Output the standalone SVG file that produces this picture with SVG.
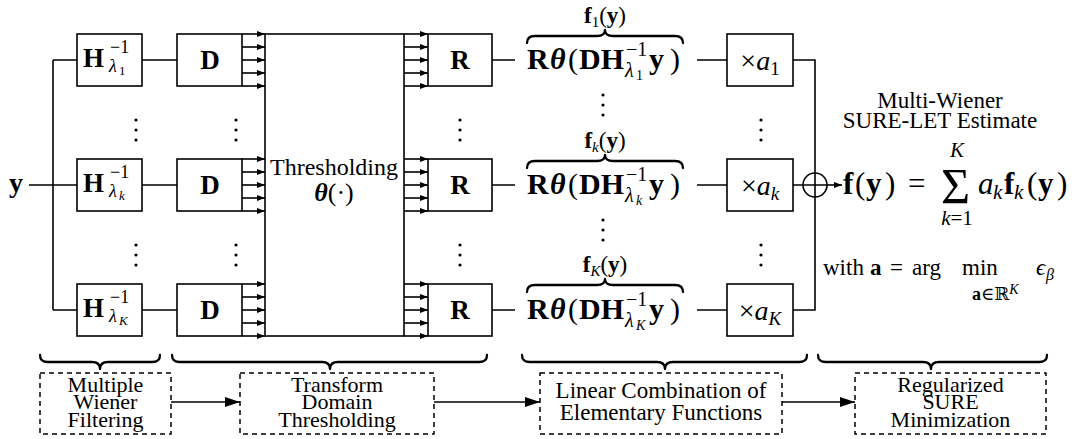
<svg xmlns="http://www.w3.org/2000/svg" width="1074" height="439" viewBox="0 0 1074 439" font-family="'Liberation Serif','DejaVu Serif',serif">
<defs>
<marker id="ah" viewBox="0 0 8 6" refX="8" refY="3" markerWidth="8" markerHeight="6" markerUnits="userSpaceOnUse" orient="auto"><path d="M0,0L8,3L0,6z" fill="#000"/></marker>
<marker id="ahb" viewBox="0 0 15 10" refX="15" refY="5" markerWidth="15" markerHeight="10" markerUnits="userSpaceOnUse" orient="auto"><path d="M0,0L15,5L0,10z" fill="#000"/></marker>
</defs>
<style>
text{font-family:"Liberation Serif","DejaVu Serif",serif;fill:#000}
.b{font-weight:bold}
.i{font-style:italic}
.bi{font-weight:bold;font-style:italic}
.box{fill:#fff;stroke:#000;stroke-width:1.6}
.ln{fill:none;stroke:#000;stroke-width:1.6}
.arr{stroke:#000;stroke-width:1.6;marker-end:url(#ah)}
.arrb{stroke:#000;stroke-width:1.6;marker-end:url(#ahb)}
.dash{fill:#fff;stroke:#000;stroke-width:1.5;stroke-dasharray:5 4}
.brace{fill:none;stroke:#000;stroke-width:2.3;stroke-linecap:round;stroke-linejoin:round}
.lbl{font-size:23px;text-anchor:middle}
.sl{font-size:22px;text-anchor:middle}
.m{text-anchor:middle}
</style>
<rect width="1074" height="439" fill="#fff"/>

<g id="connectors">
<path class="ln" d="M29,185H77 M53,60V310 M53,60H77 M53,310H77"/>
<path class="ln" d="M142,60H177 M142,185H177 M142,310H177"/>
<line class="arr" x1="242" y1="34" x2="265" y2="34"/>
<line class="arr" x1="242" y1="47" x2="265" y2="47"/>
<line class="arr" x1="242" y1="60" x2="265" y2="60"/>
<line class="arr" x1="242" y1="73" x2="265" y2="73"/>
<line class="arr" x1="242" y1="86" x2="265" y2="86"/>
<line class="arr" x1="242" y1="159" x2="265" y2="159"/>
<line class="arr" x1="242" y1="172" x2="265" y2="172"/>
<line class="arr" x1="242" y1="185" x2="265" y2="185"/>
<line class="arr" x1="242" y1="198" x2="265" y2="198"/>
<line class="arr" x1="242" y1="211" x2="265" y2="211"/>
<line class="arr" x1="242" y1="284" x2="265" y2="284"/>
<line class="arr" x1="242" y1="297" x2="265" y2="297"/>
<line class="arr" x1="242" y1="310" x2="265" y2="310"/>
<line class="arr" x1="242" y1="323" x2="265" y2="323"/>
<line class="arr" x1="242" y1="336" x2="265" y2="336"/>
<line class="arr" x1="404" y1="34" x2="428" y2="34"/>
<line class="arr" x1="404" y1="47" x2="428" y2="47"/>
<line class="arr" x1="404" y1="60" x2="428" y2="60"/>
<line class="arr" x1="404" y1="73" x2="428" y2="73"/>
<line class="arr" x1="404" y1="86" x2="428" y2="86"/>
<line class="arr" x1="404" y1="159" x2="428" y2="159"/>
<line class="arr" x1="404" y1="172" x2="428" y2="172"/>
<line class="arr" x1="404" y1="185" x2="428" y2="185"/>
<line class="arr" x1="404" y1="198" x2="428" y2="198"/>
<line class="arr" x1="404" y1="211" x2="428" y2="211"/>
<line class="arr" x1="404" y1="284" x2="428" y2="284"/>
<line class="arr" x1="404" y1="297" x2="428" y2="297"/>
<line class="arr" x1="404" y1="310" x2="428" y2="310"/>
<line class="arr" x1="404" y1="323" x2="428" y2="323"/>
<line class="arr" x1="404" y1="336" x2="428" y2="336"/>
<path class="ln" d="M492,60H515 M492,185H515 M492,310H515"/>
<path class="ln" d="M697,60H727 M697,185H727 M697,310H727"/>
<path class="ln" d="M793,60H815V173 M793,310H815V197 M793,185H803"/>
<line class="arr" x1="827" y1="185" x2="842" y2="185"/>
<line class="arrb" x1="171" y1="402" x2="240" y2="402"/>
<line class="arrb" x1="434" y1="402" x2="540" y2="402"/>
<line class="arrb" x1="782" y1="402" x2="855" y2="402"/>
</g>

<g id="input"><text class="b" x="9" y="192" font-size="28">y</text></g>

<g id="H1"><rect class="box" x="77" y="34" width="65" height="52"/>
<text class="b" x="83" y="67" font-size="27">H</text>
<text x="110" y="53" font-size="18">−1</text>
<text class="i" x="109" y="72" font-size="18">λ</text><text x="119" y="75" font-size="13">1</text></g>
<g id="Hk"><rect class="box" x="77" y="159" width="65" height="52"/>
<text class="b" x="83" y="192" font-size="27">H</text>
<text x="110" y="178" font-size="18">−1</text>
<text class="i" x="109" y="197" font-size="18">λ</text><text class="i" x="119" y="200" font-size="13">k</text></g>
<g id="HK"><rect class="box" x="77" y="284" width="65" height="52"/>
<text class="b" x="83" y="317" font-size="27">H</text>
<text x="110" y="303" font-size="18">−1</text>
<text class="i" x="109" y="322" font-size="18">λ</text><text class="i" x="119" y="325" font-size="13">K</text></g>

<g id="D1"><rect class="box" x="177" y="34" width="65" height="52"/><text class="b m" x="210" y="69" font-size="27">D</text></g>
<g id="Dk"><rect class="box" x="177" y="159" width="65" height="52"/><text class="b m" x="210" y="194" font-size="27">D</text></g>
<g id="DK"><rect class="box" x="177" y="284" width="65" height="52"/><text class="b m" x="210" y="319" font-size="27">D</text></g>

<g id="threshold"><rect class="box" x="265" y="34" width="139" height="302"/>
<text class="m" x="334" y="175" font-size="24">Thresholding</text>
<text class="m" x="334" y="201" font-size="26"><tspan class="bi">θ</tspan>(·)</text></g>

<g id="R1"><rect class="box" x="428" y="34" width="64" height="52"/><text class="b m" x="460" y="69" font-size="27">R</text></g>
<g id="Rk"><rect class="box" x="428" y="159" width="64" height="52"/><text class="b m" x="460" y="194" font-size="27">R</text></g>
<g id="RK"><rect class="box" x="428" y="284" width="64" height="52"/><text class="b m" x="460" y="319" font-size="27">R</text></g>

<g id="f1">
<path class="brace" d="M527,43 Q527,36 535,36 L597,36 Q605,36 605,30 Q605,36 613,36 L675,36 Q683,36 683,43"/>
<text class="m" x="605" y="23" font-size="23"><tspan class="b">f</tspan><tspan font-size="15" dy="4">1</tspan><tspan dy="-4">(</tspan><tspan class="b">y</tspan>)</text>
<text font-size="30" y="69"><tspan class="b" x="527">R</tspan><tspan class="bi" x="550">θ</tspan><tspan x="568">(</tspan><tspan class="b" x="579">DH</tspan><tspan class="b" x="649">y</tspan><tspan x="670">)</tspan></text>
<text x="626" y="56" font-size="20">−1</text>
<text class="i" x="625" y="77" font-size="20">λ</text><text x="636" y="80" font-size="14">1</text>
</g>
<g id="fk">
<path class="brace" d="M527,168 Q527,161 535,161 L597,161 Q605,161 605,155 Q605,161 613,161 L675,161 Q683,161 683,168"/>
<text class="m" x="605" y="148" font-size="23"><tspan class="b">f</tspan><tspan class="i" font-size="15" dy="4">k</tspan><tspan dy="-4">(</tspan><tspan class="b">y</tspan>)</text>
<text font-size="30" y="194"><tspan class="b" x="527">R</tspan><tspan class="bi" x="550">θ</tspan><tspan x="568">(</tspan><tspan class="b" x="579">DH</tspan><tspan class="b" x="649">y</tspan><tspan x="670">)</tspan></text>
<text x="626" y="181" font-size="20">−1</text>
<text class="i" x="625" y="202" font-size="20">λ</text><text class="i" x="636" y="205" font-size="14">k</text>
</g>
<g id="fK">
<path class="brace" d="M527,292 Q527,285 535,285 L597,285 Q605,285 605,279 Q605,285 613,285 L675,285 Q683,285 683,292"/>
<text class="m" x="605" y="272" font-size="23"><tspan class="b">f</tspan><tspan class="i" font-size="15" dy="4">K</tspan><tspan dy="-4">(</tspan><tspan class="b">y</tspan>)</text>
<text font-size="30" y="319"><tspan class="b" x="527">R</tspan><tspan class="bi" x="550">θ</tspan><tspan x="568">(</tspan><tspan class="b" x="579">DH</tspan><tspan class="b" x="649">y</tspan><tspan x="670">)</tspan></text>
<text x="626" y="306" font-size="20">−1</text>
<text class="i" x="625" y="327" font-size="20">λ</text><text class="i" x="636" y="330" font-size="14">K</text>
</g>

<g id="a1"><rect class="box" x="727" y="34" width="66" height="52"/><text class="m" x="760" y="70" font-size="28">×<tspan class="i">a</tspan><tspan font-size="19" dy="5">1</tspan></text></g>
<g id="ak"><rect class="box" x="727" y="159" width="66" height="52"/><text class="m" x="760" y="195" font-size="28">×<tspan class="i">a</tspan><tspan class="i" font-size="19" dy="5">k</tspan></text></g>
<g id="aK"><rect class="box" x="727" y="284" width="66" height="52"/><text class="m" x="760" y="320" font-size="28">×<tspan class="i">a</tspan><tspan class="i" font-size="19" dy="5">K</tspan></text></g>

<g id="sum"><circle cx="815" cy="185" r="12" fill="#fff" stroke="#000" stroke-width="1.6"/><path class="ln" d="M803,185H827 M815,173V197"/></g>

<g id="dots" fill="#000">
<circle cx="136" cy="120" r="1.6"/><circle cx="136" cy="130" r="1.6"/><circle cx="136" cy="140" r="1.6"/>
<circle cx="136" cy="245" r="1.6"/><circle cx="136" cy="255" r="1.6"/><circle cx="136" cy="265" r="1.6"/>
<circle cx="236" cy="120" r="1.6"/><circle cx="236" cy="130" r="1.6"/><circle cx="236" cy="140" r="1.6"/>
<circle cx="236" cy="245" r="1.6"/><circle cx="236" cy="255" r="1.6"/><circle cx="236" cy="265" r="1.6"/>
<circle cx="460" cy="120" r="1.6"/><circle cx="460" cy="130" r="1.6"/><circle cx="460" cy="140" r="1.6"/>
<circle cx="460" cy="245" r="1.6"/><circle cx="460" cy="255" r="1.6"/><circle cx="460" cy="265" r="1.6"/>
<circle cx="603" cy="95" r="1.6"/><circle cx="603" cy="105" r="1.6"/><circle cx="603" cy="115" r="1.6"/>
<circle cx="603" cy="220" r="1.6"/><circle cx="603" cy="230" r="1.6"/><circle cx="603" cy="240" r="1.6"/>
<circle cx="761" cy="120" r="1.6"/><circle cx="761" cy="130" r="1.6"/><circle cx="761" cy="140" r="1.6"/>
<circle cx="761" cy="245" r="1.6"/><circle cx="761" cy="255" r="1.6"/><circle cx="761" cy="265" r="1.6"/>
</g>

<g id="estimate">
<text class="lbl" x="940" y="108">Multi-Wiener</text>
<text class="lbl" x="940" y="128">SURE-LET Estimate</text>
<text font-size="31" y="194"><tspan class="b" x="843">f</tspan><tspan x="855">(</tspan><tspan class="b" x="866">y</tspan><tspan x="885">)</tspan><tspan x="908">=</tspan></text>
<text x="941" y="203" font-size="50">Σ</text>
<text class="i m" x="957" y="157" font-size="21">K</text>
<text class="m" x="957" y="225" font-size="21"><tspan class="i">k</tspan>=1</text>
<text font-size="31" y="194"><tspan class="i" x="978">a</tspan><tspan class="b" x="1004">f</tspan><tspan x="1027">(</tspan><tspan class="b" x="1038">y</tspan><tspan x="1057">)</tspan></text>
<text class="i" font-size="21" y="199"><tspan x="993">k</tspan><tspan x="1014">k</tspan></text>
<text font-size="23" y="275"><tspan x="823">with</tspan><tspan class="b" x="870">a</tspan><tspan x="890">=</tspan><tspan x="912">arg</tspan><tspan x="962">min</tspan></text>
<text x="972" y="300" font-size="18"><tspan class="b">a</tspan>∈ℝ<tspan class="i" font-size="14" dy="-6">K</tspan></text>
<text class="i" x="1036" y="275" font-size="23">ϵ</text><text class="i" x="1046" y="280" font-size="16">β</text>
</g>

<g id="stage-braces">
<path class="brace" d="M40,355 Q40,362 48,362 L92,362 Q100,362 100,369 Q100,362 108,362 L152,362 Q160,362 160,355"/>
<path class="brace" d="M172,355 Q172,362 180,362 L322,362 Q330,362 330,369 Q330,362 338,362 L479,362 Q487,362 487,355"/>
<path class="brace" d="M522,355 Q522,362 530,362 L657,362 Q665,362 665,369 Q665,362 673,362 L799,362 Q807,362 807,355"/>
<path class="brace" d="M818,355 Q818,362 826,362 L923,362 Q931,362 931,369 Q931,362 939,362 L1039,362 Q1047,362 1047,355"/>
</g>

<g id="stage1"><rect class="dash" x="40" y="373" width="131" height="61"/>
<text class="sl" x="105.5" y="392">Multiple</text><text class="sl" x="105.5" y="409">Wiener</text><text class="sl" x="105.5" y="427">Filtering</text></g>
<g id="stage2"><rect class="dash" x="240" y="373" width="194" height="61"/>
<text class="sl" x="337" y="392">Transform</text><text class="sl" x="337" y="409">Domain</text><text class="sl" x="337" y="427">Thresholding</text></g>
<g id="stage3"><rect class="dash" x="540" y="373" width="242" height="61"/>
<text class="lbl" x="661" y="398">Linear Combination of</text><text class="lbl" x="661" y="420">Elementary Functions</text></g>
<g id="stage4"><rect class="dash" x="855" y="373" width="191" height="61"/>
<text class="sl" x="950.5" y="392">Regularized</text><text class="sl" x="950.5" y="409">SURE</text><text class="sl" x="950.5" y="427">Minimization</text></g>
</svg>
